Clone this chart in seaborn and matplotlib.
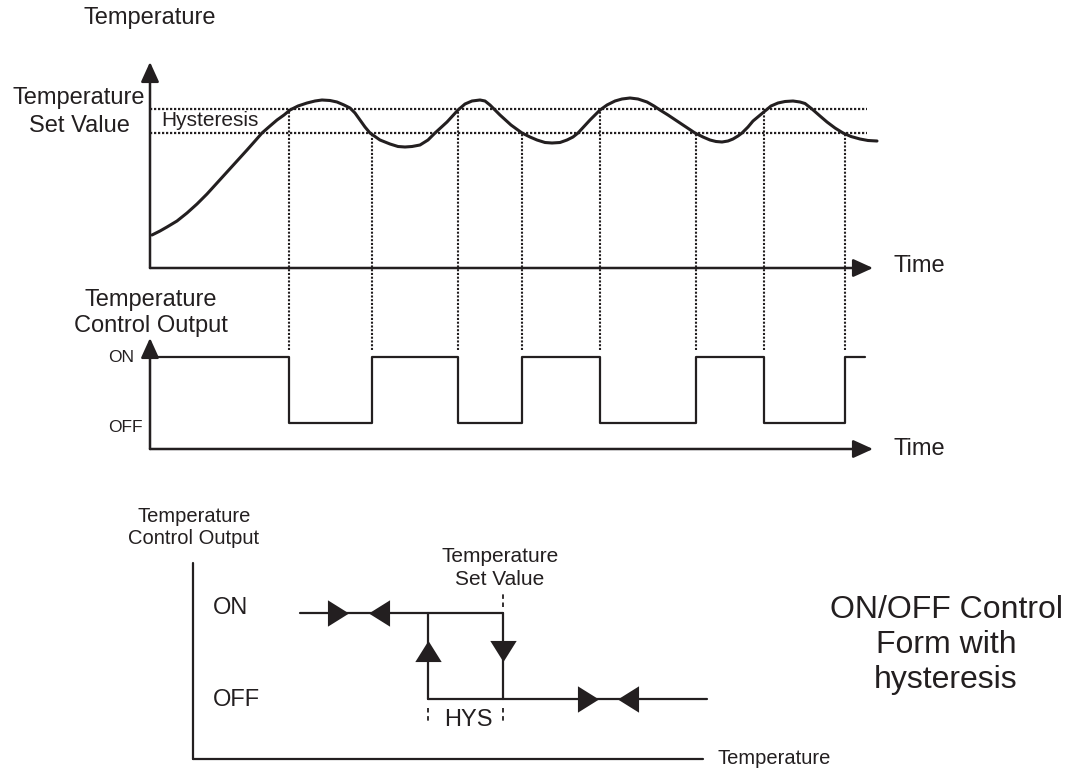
import matplotlib
matplotlib.use("Agg")
import matplotlib.pyplot as plt
import seaborn as sns

# temperature curve (time units, temperature units)
curve_t = [0.2, 1.0, 1.7, 2.7, 3.7, 4.7, 5.7, 6.7, 7.7, 8.7, 9.7, 10.5, 11.2, 12.0,
           12.7, 13.4, 14.0, 14.8, 15.7, 16.5, 17.2, 18.0, 18.7, 19.4, 20.0, 20.5,
           21.0, 21.5, 22.0, 23.0, 24.0, 24.8, 25.5, 26.2, 27.0, 27.8, 28.5, 29.1,
           29.7, 30.8, 31.5, 32.2, 33.0, 33.5, 34.0, 34.5, 35.0, 36.1, 37.2, 38.0,
           38.7, 39.5, 40.2, 41.0, 41.7, 42.3, 42.8, 44.0, 45.0, 45.7, 46.5, 47.2,
           48.0, 48.8, 49.7, 50.4, 51.0, 51.8, 52.7, 53.6, 54.5, 55.3, 56.0, 56.6,
           57.2, 57.8, 58.3, 58.8, 59.2, 59.8, 60.3, 60.9, 61.5, 62.1, 62.8, 63.5,
           64.3, 65.0, 65.5, 66.2, 67.0, 67.7, 68.5, 69.3, 70.1, 71.0, 71.8, 72.7]
curve_T = [16.5, 18.5, 20.5, 23.5, 27.5, 32, 37, 42.5, 48, 53.5, 59, 63.5, 67.5, 71,
           74, 76.5, 79, 81, 82.5, 83.5, 84, 83.75, 83, 81.5, 80, 77.5,
           74, 70.5, 67.5, 64, 62, 60.75, 60.5, 60.75, 61.5, 64, 67.5, 70.25,
           73, 79, 82, 83.5, 84, 83.5, 81.5, 79, 76.5, 71.5, 67.5, 65.5,
           64, 62.75, 62.5, 62.75, 64, 65.5, 67.5, 74, 79, 81.5, 83.5, 84.5,
           85, 84.5, 83, 81, 79, 76.5, 73.5, 70.5, 67.5, 65.5, 64, 63.25,
           63, 63.5, 64.5, 66, 67.5, 70.5, 73.5, 76, 78.5, 81, 82.5, 83.25,
           83.5, 83, 82.25, 79.5, 76, 73, 70, 67.5, 65.75, 64.5, 63.75, 63.5]
set_value = 79.5
hys_low = 67.5
t_end = 71.7
t_axis = 72.3

# control output switching
switch_t = [0, 13.9, 22.2, 30.8, 37.2, 45.0, 54.6, 61.4, 69.5, 71.5]
state = [1, 0, 1, 0, 1, 0, 1, 0, 1, 1]

# hysteresis characteristic (temperature units)
sv_b = 31.0
low_b = 23.5
on_start = 10.7
off_end = 51.4
on_arrows = [14.5, 18.6]
off_arrows = [39.45, 43.5]

W, H = 1076, 771
ink = "#231f20"

sns.set_theme(style="white")
plt.rcParams["font.family"] = ["Liberation Sans", "DejaVu Sans"]

fig = plt.figure(figsize=(W / 100, H / 100), dpi=100)


def box(l, t, r, b):
    return fig.add_axes([l / W, 1 - b / H, (r - l) / W, (b - t) / H])


def txt(x, y, s, size, ha="left", ls=1.2):
    fig.text(x / W, 1 - y / H, s, fontsize=size, ha=ha, va="center",
             color=ink, linespacing=ls, multialignment="center")


def arrow(ax, start, tip):
    ax.annotate("", xy=tip, xytext=start, annotation_clip=False,
                arrowprops=dict(arrowstyle="-|>,head_length=0.55,head_width=0.25",
                                mutation_scale=22, lw=1.8, color=ink,
                                shrinkA=0, shrinkB=0))


# --- top: temperature vs time
ax1 = box(150, 62, 880, 268)
ax1.set_xlim(0, 73)
ax1.set_ylim(0, 103)
sns.lineplot(x=curve_t, y=curve_T, ax=ax1, sort=False, estimator=None,
             color=ink, lw=2.2, solid_joinstyle="round", clip_on=False)
dots = (0, (1, 0.8))
ax1.hlines([set_value, hys_low], 0, t_end, colors=ink, lw=1.6, linestyles=[dots])
arrow(ax1, (0, 0), (0, 103))
arrow(ax1, (0, 0), (t_axis, 0))

# --- middle: control output vs time
ax2 = box(150, 338, 880, 449)
ax2.set_xlim(0, 73)
ax2.set_ylim(-0.394, 1.288)
sns.lineplot(x=switch_t, y=state, ax=ax2, sort=False, estimator=None,
             drawstyle="steps-post", color=ink, lw=1.6, clip_on=False)
arrow(ax2, (0, -0.394), (0, 1.288))
arrow(ax2, (0, -0.394), (t_axis, -0.394))

# dotted guides from the temperature curve down to the output trace
for i, t in enumerate(switch_t[1:-1]):
    level = set_value if i % 2 == 0 else hys_low
    disp = ax2.transData.transform((t, 1.106))
    bottom = ax1.transData.inverted().transform(disp)[1]
    ax1.vlines(t, bottom, level, colors=ink, lw=1.5, linestyles=[dots], clip_on=False)

# --- bottom: hysteresis form
ax3 = box(193, 563, 1076, 759)
ax3.set_xlim(0, 88.3)
ax3.set_ylim(-0.698, 1.581)
lw3 = 1.6
ax3.plot([0, 0], [-0.698, 1.581], color=ink, lw=lw3, clip_on=False)
ax3.plot([0, 51.0], [-0.698, -0.698], color=ink, lw=lw3, clip_on=False)
ax3.plot([on_start, sv_b], [1, 1], color=ink, lw=lw3)
ax3.plot([low_b, off_end], [0, 0], color=ink, lw=lw3)
ax3.plot([low_b, low_b], [0, 1], color=ink, lw=lw3)
ax3.plot([sv_b, sv_b], [0, 1], color=ink, lw=lw3)

tri_r = [(-0.8, -1), (0.8, 0), (-0.8, 1), (-0.8, -1)]
tri_l = [(0.8, -1), (-0.8, 0), (0.8, 1), (0.8, -1)]
tri_u = [(-1, -0.8), (0, 0.8), (1, -0.8), (-1, -0.8)]
tri_d = [(-1, 0.8), (0, -0.8), (1, 0.8), (-1, 0.8)]
mk = dict(color=ink, ms=19, linestyle="none", mew=0)
ax3.plot([on_arrows[0]], [1], marker=tri_r, **mk)
ax3.plot([on_arrows[1]], [1], marker=tri_l, **mk)
ax3.plot([off_arrows[0]], [0], marker=tri_r, **mk)
ax3.plot([off_arrows[1]], [0], marker=tri_l, **mk)
ax3.plot([low_b], [0.56], marker=tri_u, **mk)
ax3.plot([sv_b], [0.56], marker=tri_d, **mk)

dash = dict(color=ink, lw=1.3, linestyle=(0, (2.5, 2)))
ax3.plot([sv_b, sv_b], [1.07, 1.244], **dash)
ax3.plot([sv_b, sv_b], [-0.105, -0.279], **dash)
ax3.plot([low_b, low_b], [-0.105, -0.279], **dash)

for a in (ax1, ax2, ax3):
    a.set_axis_off()

# --- texts
txt(150, 18, "Temperature", 17, ha="center")
txt(79, 112, "Temperature\nSet Value", 17, ha="center", ls=1.35)
txt(161, 120, "Hysteresis", 15)
txt(893, 266, "Time", 17)
txt(151, 313, "Temperature\nControl Output", 17, ha="center", ls=1.25)
txt(108, 357, "ON", 12.5)
txt(108, 427, "OFF", 12.5)
txt(893, 449, "Time", 17)

txt(194, 527, "Temperature\nControl Output", 14.5, ha="center", ls=1.2)
txt(500, 568, "Temperature\nSet Value", 15, ha="center", ls=1.3)
txt(213, 608, "ON", 17)
txt(213, 700, "OFF", 17)
txt(468, 720, "HYS", 17, ha="center")
txt(718, 759, "Temperature", 14.5)
txt(946, 645, "ON/OFF Control\nForm with\nhysteresis", 23, ha="center", ls=1.2)

fig.savefig("out.png", dpi=100, facecolor="white")
